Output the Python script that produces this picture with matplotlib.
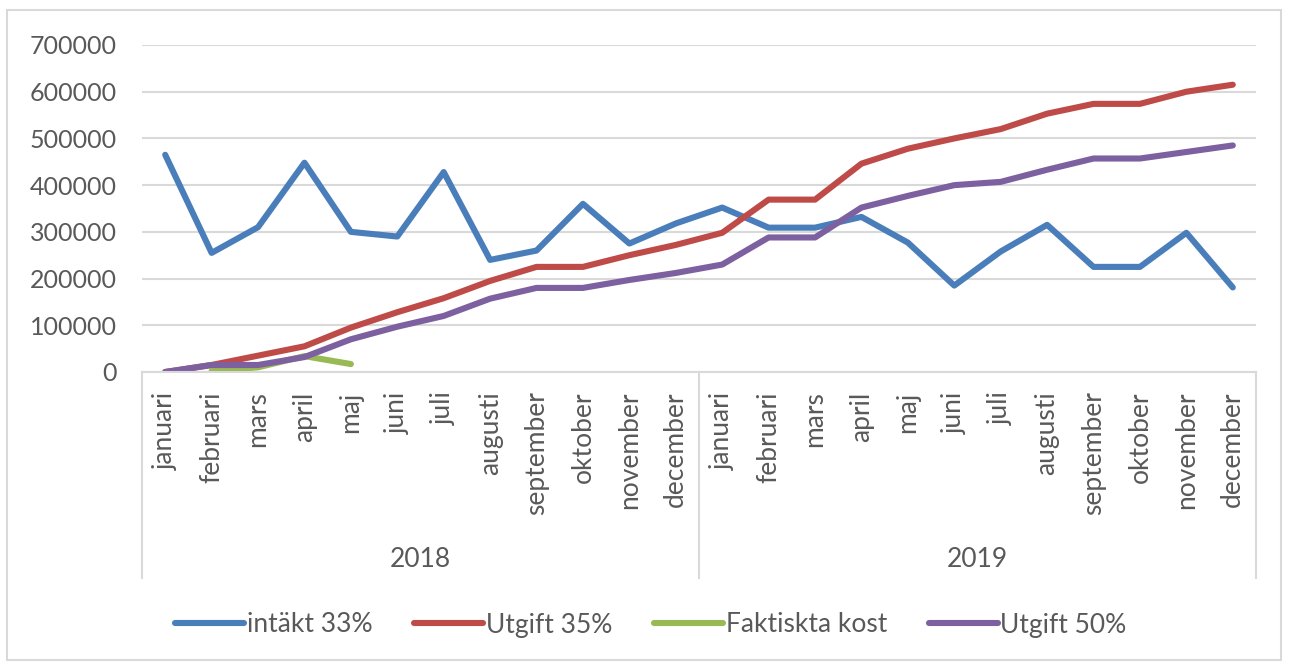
import matplotlib
matplotlib.use("agg")
import matplotlib.pyplot as plt
from matplotlib.patches import Rectangle

# Data
years = ["2018", "2019"]
months = ["januari", "februari", "mars", "april", "maj", "juni", "juli",
          "augusti", "september", "oktober", "november", "december"]

intakt_33 = [465000, 255000, 310000, 448000, 300000, 290000, 428000, 240000,
             260000, 360000, 275000, 318000,
             352000, 309000, 309000, 332000, 277000, 185000, 258000, 315000,
             225000, 225000, 298000, 181000]
utgift_35 = [0, 15000, 35000, 55000, 95000, 128000, 158000, 195000,
             225000, 225000, 250000, 272000,
             298000, 369000, 369000, 446000, 478000, 500000, 520000, 553000,
             574000, 574000, 600000, 615000]
faktiska_kost = [None, 2000, 10000, 34000, 17000]
utgift_50 = [0, 15000, 15000, 32000, 70000, 97000, 120000, 157000,
             180000, 180000, 197000, 212000,
             230000, 288000, 288000, 352000, 377000, 400000, 407000, 433000,
             457000, 457000, 471000, 485000]

series = [
    ("intäkt 33%", intakt_33, "#4A7EBB"),
    ("Utgift 35%", utgift_35, "#BE4B48"),
    ("Faktiskta kost", faktiska_kost, "#98B954"),
    ("Utgift 50%", utgift_50, "#7D60A0"),
]

text_color = "#595959"
grid_color = "#d9d9d9"
plt.rcParams["font.family"] = ["Lato", "DejaVu Sans"]
plt.rcParams["font.size"] = 19

W, H = 1289, 666
fig = plt.figure(figsize=(W / 100, H / 100), dpi=100)
fig.patches.append(Rectangle((7 / W, 6 / H), 1274 / W, 650 / H,
                             transform=fig.transFigure, fill=False,
                             edgecolor=grid_color, linewidth=1.5))

# axes box: x 142..1256 px, y 45..372 px
ax = fig.add_axes([142 / W, 1 - 372 / H, (1256 - 142) / W, (372 - 45) / H])

labels = [m for _ in years for m in months]
x = list(range(len(labels)))

for name, vals, color in series:
    xs = [i for i, v in zip(x, vals) if v is not None]
    ys = [v for v in vals if v is not None]
    ax.plot(xs, ys, color=color, linewidth=4.4, label=name,
            solid_capstyle="round", solid_joinstyle="round")

ax.set_xlim(-0.5, len(labels) - 0.5)
ax.set_ylim(0, 700000)
ax.set_yticks(range(0, 700001, 100000))
ax.yaxis.grid(True, color=grid_color, linewidth=1.5)
ax.set_axisbelow(True)
for side in ["top", "right", "left"]:
    ax.spines[side].set_visible(False)
ax.spines["bottom"].set_color(grid_color)
ax.spines["bottom"].set_linewidth(1.5)

ax.set_xticks(x)
ax.set_xticklabels(labels, rotation=90, color=text_color)
ax.tick_params(axis="x", length=0, pad=14)
ax.tick_params(axis="y", length=0, pad=18, colors=text_color, labelsize=18)

# year group separators and labels
sep_depth = (578 - 372) / (372 - 45)
n = len(months)
for k in range(len(years) + 1):
    xv = k * n - 0.5
    ax.plot([xv, xv], [0, -sep_depth], transform=ax.get_xaxis_transform(),
            color=grid_color, linewidth=1.5, clip_on=False)
for k, yr in enumerate(years):
    ax.text(k * n + (n - 1) / 2, -(560 - 372) / (372 - 45), yr,
            transform=ax.get_xaxis_transform(), ha="center", va="center",
            color=text_color)

leg = fig.legend(loc="center", bbox_to_anchor=(651 / W, 1 - 625 / H),
                 ncol=4, frameon=False, handlelength=2.6, handletextpad=0.1,
                 columnspacing=1.6, labelcolor=text_color)

fig.savefig("out.png", dpi=100)
